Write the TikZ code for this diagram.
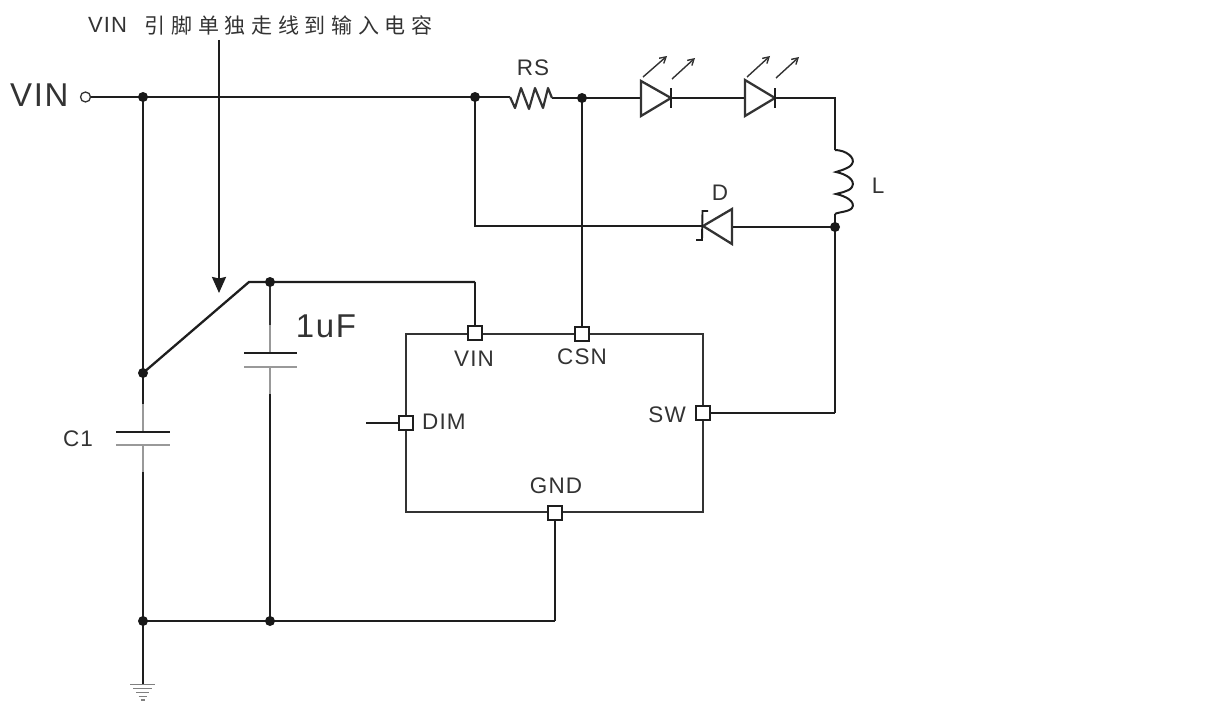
\documentclass[tikz,border=0pt]{standalone}
\usepackage{fontspec}
\setmainfont{Liberation Sans}
\newfontfamily\cjkfont[LetterSpace=27]{Noto Sans CJK SC}
\newfontfamily\spfont[LetterSpace=5]{Liberation Sans}
\usetikzlibrary{arrows.meta}
\definecolor{wirec}{HTML}{1E1E1E}
\definecolor{textc}{HTML}{333333}
\definecolor{lightc}{HTML}{999999}
\tikzset{
  wire/.style={draw=wirec,line width=2.3pt,line join=miter},
  thinwire/.style={draw=lightc,line width=1.6pt},
  plate/.style={draw=wirec,line width=2.6pt},
  plateb/.style={draw=lightc,line width=2.6pt},
  dot/.style={circle,fill=black!90,draw=none,inner sep=0pt,minimum size=10pt},
  pin/.style={rectangle,draw=wirec,fill=white,line width=2.2pt,inner sep=0pt,minimum size=14.5pt},
  lbl/.style={text=textc,inner sep=0pt,font=\spfont\fontsize{22.5}{24}\selectfont},
  ray/.style={draw=textc,line width=1.4pt,-{Straight Barb[length=6pt,width=7pt]}},
}
\begin{document}
\begin{tikzpicture}[x=1pt,y=-1pt]
\useasboundingbox (0,0) rectangle (1230,725);
% named points
\coordinate (jA) at (143,97);
\coordinate (jB) at (475,97);
\coordinate (jC) at (582,98);
\coordinate (cor1) at (835,98);
\coordinate (Ltop) at (835,150);
\coordinate (Lbot) at (835,214);
\coordinate (jD) at (835,227);
\coordinate (swc) at (835,413);
\coordinate (jE) at (143,373);
\coordinate (bend) at (249,282);
\coordinate (jF) at (270,282);
\coordinate (vincor) at (475,282);
\coordinate (jG) at (143,621);
\coordinate (jH) at (270,621);
\coordinate (gcor) at (555,621);
\coordinate (gnd) at (143,684);
\coordinate (dimend) at (366,423);
\coordinate (arrS) at (219,40);
\coordinate (arrE) at (219,293);
\coordinate (rsL) at (510,97);
\coordinate (rsR) at (552,98);
\coordinate (dA) at (732,227);
\coordinate (dK) at (703,226);
\coordinate (l1A) at (641,98);
\coordinate (l1K) at (671,98);
\coordinate (l2A) at (745,98);
\coordinate (l2K) at (775,98);
% IC body
\node[draw=textc,line width=2.3pt,minimum width=297pt,minimum height=178pt,inner sep=0pt] (ic) at (554.5,423) {};
% wires
\node[circle,draw=textc,fill=white,line width=1.3pt,inner sep=0pt,minimum size=10pt] (vinT) at (85.5,97) {};
\draw[wire] (vinT) -- (jA) -- (jB) -- (rsL);
\draw[wire] (rsR) -- (jC) -- (l1A);
\draw[wire] (l1K) -- (l2A);
\draw[wire] (l2K) -- (cor1) -- (Ltop);
\draw[wire] (jB) |- (dK);
\draw[wire] (dA) -- (jD);
\draw[wire] (Lbot) -- (jD) -- (swc);
\draw[wire] (jA) -- (jE);
\draw[wire] (jE) -- (bend) -- (vincor);
\draw[wire] (jG) -- (gcor);
% resistor
\draw[draw=textc,line width=2.2pt,line join=round] (rsL) -- (515,108) -- (521,88) -- (529,109) -- (535,88) -- (543,108) -- (548,88) -- (rsR);
% inductor
\draw[wire,line width=2pt] (Ltop) .. controls (846,150) and (856,158) .. (852,164) .. controls (849,169) and (838,171) .. (836,172)
 .. controls (846,174) and (856,180) .. (852,187) .. controls (849,192) and (838,193) .. (836,194)
 .. controls (846,196) and (856,202) .. (852,208) .. controls (849,212) and (838,212) .. (Lbot);
% LEDs
\draw[draw=textc,line width=2.3pt,fill=white,line join=miter] (641,81) -- (l1K) -- (641,116) -- cycle;
\draw[wire] (671,88) -- (671,108);
\draw[draw=textc,line width=2.3pt,fill=white,line join=miter] (745,80) -- (l2K) -- (745,116) -- cycle;
\draw[wire] (775,88) -- (775,108);
\draw[ray] (643,77) -- (667,56);
\draw[ray] (672,79) -- (695,58);
\draw[ray] (747,77) -- (770,56);
\draw[ray] (776,78) -- (799,57);
% Schottky diode
\draw[draw=textc,line width=2.3pt,fill=white,line join=miter] (732,209) -- (dK) -- (732,244) -- cycle;
\draw[wire,line width=1.9pt] (708,211) -- (702.5,211) -- (702,240) -- (696,240);
% C1
\draw[wire] (jE) -- (143,404);
\draw[thinwire] (143,404) -- (143,432);
\draw[thinwire] (143,445) -- (143,472);
\draw[wire] (143,472) -- (jG);
\draw[plate] (116,432) -- (170,432);
\draw[plateb] (116,445) -- (170,445);
% 1uF
\draw[draw=textc,line width=2.3pt] (jF) -- (270,325);
\draw[thinwire] (270,325) -- (270,353);
\draw[thinwire] (270,367) -- (270,394);
\draw[wire] (270,394) -- (jH);
\draw[plate] (244,353) -- (297,353);
\draw[plateb] (244,367) -- (297,367);
% ground
\draw[wire] (jG) -- (gnd);
\draw[draw=gray,line width=1.8pt] (130,684.5) -- (155,684.5);
\draw[draw=gray,line width=1.8pt] (133,688.5) -- (152,688.5);
\draw[draw=gray,line width=1.8pt] (136,692.5) -- (149,692.5);
\draw[draw=gray,line width=1.8pt] (138.5,696.5) -- (146.5,696.5);
\draw[draw=gray,line width=1.5pt] (140.5,700) -- (144.5,700);
% arrow
\draw[draw=wirec,line width=2.2pt,-{Stealth[length=16pt,width=14pt,inset=1.5pt]}] (arrS) -- (arrE);
% pins
\node[pin] (pVIN) at (475,333) {};
\node[pin] (pCSN) at (582,334) {};
\node[pin] (pDIM) at (406,423) {};
\node[pin] (pSW) at (703,413) {};
\node[pin] (pGND) at (555,513) {};
\draw[wire] (vincor) -- (pVIN);
\draw[wire] (jC) -- (pCSN);
\draw[wire] (dimend) -- (pDIM);
\draw[wire] (pSW) -- (swc);
\draw[wire] (gcor) -- (pGND);
% dots
\node[dot] (dA1) at (jA) {};
\node[dot] (dB1) at (jB) {};
\node[dot] (dC1) at (jC) {};
\node[dot] (dD1) at (jD) {};
\node[dot] (dE1) at (jE) {};
\node[dot] (dF1) at (jF) {};
\node[dot] (dG1) at (jG) {};
\node[dot] (dH1) at (jH) {};
% labels
\node[lbl,anchor=west] (t0) at (88,25) {\fontsize{22}{24}\selectfont VIN};
\node[lbl,anchor=west] (t0b) at (144.5,25) {\cjkfont\fontsize{21}{22}\selectfont 引脚单独走线到输入电容};
\node[lbl,anchor=west] (t1) at (10,95) {\fontsize{33}{35}\selectfont VIN};
\node[lbl] (t2) at (533,68) {RS};
\node[lbl] (t3) at (720,193) {D};
\node[lbl] (t4) at (878,186) {L};
\node[lbl] (t5) at (78,439) {C1};
\node[lbl] (t6) at (326,326) {\fontsize{33}{35}\selectfont 1uF};
\node[lbl] (t7) at (474,359) {VIN};
\node[lbl] (t8) at (582,357) {CSN};
\node[lbl,anchor=west] (t9) at (422,422) {DIM};
\node[lbl,anchor=east] (t10) at (686,415) {SW};
\node[lbl] (t11) at (556,486) {GND};
\end{tikzpicture}
\end{document}
